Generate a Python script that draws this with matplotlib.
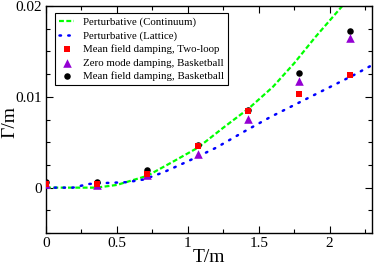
import matplotlib
matplotlib.use("Agg")
import matplotlib.pyplot as plt
from matplotlib.ticker import MultipleLocator, FixedLocator, FixedFormatter

plt.rcParams['font.family'] = ['Liberation Serif', 'DejaVu Serif']
plt.rcParams['mathtext.fontset'] = 'stix'

# Perturbative curves
cont_T = [0.0, 0.2, 0.357, 0.5, 0.714, 0.9, 1.071, 1.25, 1.428, 1.6, 1.75, 1.9, 2.1]
cont_G = [0.0, 0.0, 0.0, 0.0003, 0.0013, 0.0029, 0.0044, 0.0066, 0.0087, 0.0111, 0.0137, 0.0166, 0.0202]

latt_T = [0.0, 0.19, 0.30, 0.40, 0.57, 0.69, 0.83, 1.0, 1.2, 1.4, 1.585, 1.89, 2.17, 2.3]
latt_G = [0.0, 0.0, 0.0004, 0.0005, 0.0006, 0.0009, 0.0017, 0.0029, 0.0044, 0.0062, 0.0078, 0.0102, 0.0124, 0.0135]

# Data points
T_pts = [0.0, 0.357, 0.714, 1.071, 1.428, 1.785, 2.142]
mf_twoloop = [0.0004, 0.0004, 0.00154, 0.00454, 0.0084, 0.01033, 0.01242]
zm_basket = [0.0004, 0.0003, 0.0014, 0.00374, 0.00755, 0.01172, 0.01652]
mf_basket = [0.0006, 0.00058, 0.00198, 0.00469, 0.00857, 0.01267, 0.01725]

x_ticks = [0, 0.5, 1, 1.5, 2]
x_ticklabels = ["0", "0.5", "1", "1.5", "2"]
y_ticks = [0, 0.01, 0.02]
y_ticklabels = ["0", "0.01", "0.02"]

fig = plt.figure(figsize=(3.74, 2.66), dpi=100)
ax = fig.add_axes([0.123, 0.124, 0.872, 0.853])

l1, = ax.plot(cont_T, cont_G, color='#00ff00', lw=1.6, dashes=(2.2, 1.1),
              label='Perturbative (Continuum)', zorder=2)
l2, = ax.plot(latt_T, latt_G, color='#0000ff', lw=1.8, dashes=(0.6, 2.9),
              dash_capstyle='round', label='Perturbative (Lattice)', zorder=2)
s3 = ax.scatter(T_pts, mf_basket, marker='o', s=22, color='black', zorder=3,
                label='Mean field damping, Basketball', linewidths=0)
s2 = ax.scatter(T_pts, zm_basket, marker='^', s=38, color='#9400d3', zorder=4,
                label='Zero mode damping, Basketball', linewidths=0)
s1 = ax.scatter(T_pts, mf_twoloop, marker='s', s=20, color='#ff0000', zorder=5,
                label='Mean field damping, Two-loop', linewidths=0)

ax.set_xlim(0, 2.3)
ax.set_ylim(-0.005, 0.02)
ax.xaxis.set_major_locator(FixedLocator(x_ticks))
ax.xaxis.set_major_formatter(FixedFormatter(x_ticklabels))
ax.xaxis.set_minor_locator(MultipleLocator(0.25))
ax.yaxis.set_major_locator(FixedLocator(y_ticks))
ax.yaxis.set_major_formatter(FixedFormatter(y_ticklabels))
ax.yaxis.set_minor_locator(MultipleLocator(0.0025))
ax.tick_params(which='both', direction='in', top=True, right=True, labelsize=11, pad=3)
ax.tick_params(which='major', length=5, width=0.8)
ax.tick_params(which='minor', length=3, width=0.8)
for sp in ax.spines.values():
    sp.set_linewidth(1.0)

ax.set_xlabel('T/m', fontsize=14, labelpad=-1)
ax.set_ylabel('Γ/m', fontsize=14)
ax.yaxis.set_label_coords(-0.086, 0.49)

leg = ax.legend(handles=[l1, l2, s1, s2, s3], loc='upper left',
                bbox_to_anchor=(0.027, 0.97), fontsize=7.8, frameon=True,
                fancybox=False, edgecolor='black', framealpha=1,
                handlelength=1.4, handletextpad=0.8, borderpad=0.4,
                labelspacing=0.35, borderaxespad=0.0, scatterpoints=1)
leg.get_frame().set_linewidth(0.8)

fig.savefig('out.png', dpi=100)
